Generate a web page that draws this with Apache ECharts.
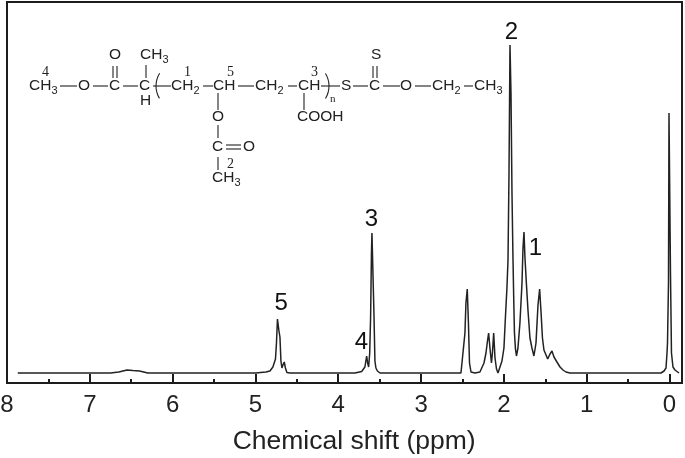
<!DOCTYPE html>
<html><head><meta charset="utf-8">
<style>html,body{margin:0;padding:0;background:#fff}#c{width:685px;height:458px}</style>
<script src="https://cdn.jsdelivr.net/npm/echarts@6/dist/echarts.min.js"></script></head>
<body><div id="c"></div>
<script>
// chemical shift (ppm), descending
const shift = [7.87,7.2,6.75,6.65,6.55,6.48,6.4,6.3,6,5.5,5,4.873,4.825,4.789,4.758,4.746,4.734,4.728,4.716,4.704,4.692,4.68,4.668,4.652,4.638,4.62,4.583,4.3,4,3.798,3.717,3.678,3.657,3.645,3.633,3.62,3.609,3.599,3.593,3.581,3.569,3.557,3.545,3.527,3.496,3,2.6,2.518,2.494,2.47,2.458,2.442,2.428,2.415,2.397,2.349,2.289,2.24,2.216,2.198,2.184,2.168,2.15,2.138,2.123,2.107,2.089,2.071,2.047,2.023,1.999,1.981,1.963,1.95,1.938,1.926,1.914,1.902,1.89,1.88,1.872,1.86,1.848,1.83,1.806,1.781,1.769,1.757,1.745,1.727,1.709,1.685,1.661,1.637,1.612,1.588,1.568,1.552,1.534,1.516,1.491,1.471,1.443,1.419,1.395,1.359,1.322,1.286,1.25,1.203,1,0.5,0.103,0.066,0.042,0.03,0.024,0.012,0.006,-0.006,-0.012,-0.024,-0.042,-0.066,-0.115];
// peak height above the axis line
const intensity = [10,10,10,11,13,12.5,12,10,10,10,10,11,12,16,24,40,64,64,52,46,22,15,18,21,15,10.5,10,10,10,10,11.5,16,27,20,16,30,67,130,150,150,70,22,15,12,10,10,10,10,11,50,80,94,60,20,11,10,11,20,30,42,50,35,20,30,50,25,14,10,10,22,35,66,95,123,210,338,290,190,125,80,50,34,27,35,60,100,135,151,125,98,73,45,35,27,40,78,94,72,45,33,28,24,29,32,26,21,16,13,11,10,10,10,10,12,15,30,40,100,270,270,110,30,16,13,10];
// peak assignment labels
const peakLabelShift = [1.91,1.62,3.6,3.72,4.69];
const peakLabelHeight = [351,135,164,41,80];
const peakLabelText = ['2','1','3','4','5'];
const tickLabels = ['8','7','6','5','4','3','2','1','0'];
const axisName = 'Chemical shift (ppm)';

const ink = '#1c1c1c';
const F = '"Liberation Sans", Arial, sans-serif';
// structure drawing
const T = (s,x,y,size=15.5,font=F)=>({type:'text',silent:true,style:{text:s,x,y,fill:'#222',font:size+'px '+font,textAlign:'left',textVerticalAlign:'middle'}});
const CH3 = (x,y)=>[T('CH',x,y),T('3',x+22.5,y+5,11)];
const CH2 = (x,y)=>[T('CH',x,y),T('2',x+22.5,y+5,11)];
const L = (x1,y1,x2,y2)=>({type:'line',silent:true,shape:{x1,y1,x2,y2},style:{stroke:'#222',lineWidth:1.1}});
const SF = '"Liberation Serif", serif';
const structure = [
 ...CH3(29,86),L(60,86,77,86),T('O',78,86),L(93,86,108,86),T('C',109,86),
 L(113,66,113,78),L(117,66,117,78),T('O',109,55),
 L(123,86,138,86),T('C',139,86),L(146,65,146,78),...CH3(140,55),T('H',140,101),
 L(153,86,171,86),
 ...CH2(171,86),L(203,86,213,86),T('CH',213,86),L(238,86,254,86),
 ...CH2(255,86),L(288,86,297,86),T('CH',298,86),L(321,86,340,86),T('S',341,86),
 L(353,86,368,86),T('C',369,86),L(373,66,373,78),L(377,66,377,78),T('S',371,55),
 L(383,86,400,86),T('O',400,86),L(415,86,431,86),...CH2(432,86),L(464,86,473,86),...CH3(474,86),
 L(218,93,218,110),T('O',212,117),L(218,125,218,138),T('C',212,147),
 L(226,145,241,145),L(226,149,241,149),T('O',243,147),L(218,157,218,170),...CH3(212,178),
 L(304,93,304,110),T('COOH',297,117),
 T('1',184,72,14,SF),T('5',227,72,14,SF),T('3',311,72,14,SF),T('4',42,72,14,SF),
 T('2',227,164,14,SF),T('n',330,99,11,SF),
 {type:'arc',silent:true,shape:{cx:180,cy:86,r:24,startAngle:2.6,endAngle:3.7},style:{stroke:'#222',lineWidth:1.1,fill:null}},
 {type:'arc',silent:true,shape:{cx:305,cy:86,r:24,startAngle:-0.55,endAngle:0.55},style:{stroke:'#222',lineWidth:1.1,fill:null}},
 {type:'rect',silent:true,z:20,shape:{x:683,y:0,width:2,height:458},style:{fill:'#fff'}},
 {type:'rect',silent:true,z:21,shape:{x:7,y:2,width:675,height:381},style:{fill:null,stroke:ink,lineWidth:2}}
];

const chart = echarts.init(document.getElementById('c'),null,{renderer:'canvas'});
chart.setOption({
 animation:false,backgroundColor:'#fff',
 grid:{left:7,width:745.3,top:2,bottom:75,show:false,outerBoundsMode:'none',containLabel:false},
 xAxis:{type:'value',inverse:true,min:-1,max:8,interval:1,
  name:axisName,nameLocation:'middle',nameGap:45,
  nameTextStyle:{fontFamily:F,fontSize:26.5,color:'#222',padding:[0,51,0,0]},
  axisLine:{show:true,onZero:false,lineStyle:{color:ink,width:2}},
  axisTick:{show:true,inside:true,length:9,lineStyle:{color:ink,width:2}},
  minorTick:{show:true,splitNumber:2,length:4,lineStyle:{color:ink,width:2}},
  splitLine:{show:false},minorSplitLine:{show:false},
  axisLabel:{show:true,fontFamily:F,fontSize:24,color:'#222',margin:10,hideOverlap:false,
   showMinLabel:true,showMaxLabel:true,
   formatter:v=>tickLabels.includes(String(v))?String(v):''}},
 yAxis:{type:'value',min:0,max:381,show:false},
 series:[
  {type:'line',data:shift.map((s,i)=>[s,intensity[i]]),showSymbol:false,symbol:'none',smooth:false,
   lineStyle:{color:'#222',width:1.5},z:3},
  {type:'scatter',symbolSize:0,data:peakLabelShift.map((s,i)=>[s,peakLabelHeight[i],peakLabelText[i]]),
   label:{show:true,position:'inside',formatter:p=>p.value[2],fontFamily:F,fontSize:24,color:'#111',textBorderWidth:0,opacity:1},z:4}
 ],
 graphic:{elements:structure}
});
</script></body></html>
